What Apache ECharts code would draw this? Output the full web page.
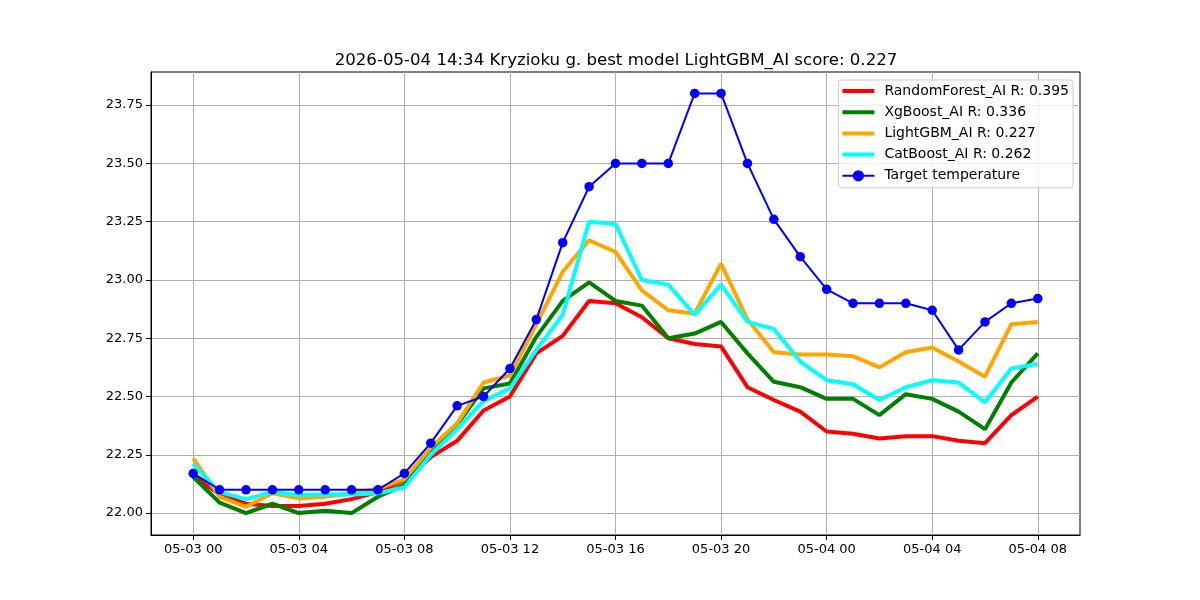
<!DOCTYPE html>
<html>
<head>
<meta charset="utf-8">
<script src="https://cdn.jsdelivr.net/npm/echarts@6/dist/echarts.min.js"></script>
<style>html,body{margin:0;padding:0;background:#fff}#c{width:1200px;height:600px}</style>
</head>
<body>
<div id="c"></div>
<script>
const titleText = '2026-05-04 14:34 Kryzioku g. best model LightGBM_AI score: 0.227';
const hours = [0,1,2,3,4,5,6,7,8,9,10,11,12,13,14,15,16,17,18,19,20,21,22,23,24,25,26,27,28,29,30,31,32];
const xTickHours = [0,4,8,12,16,20,24,28,32];
const xTickLabels = ['05-03 00','05-03 04','05-03 08','05-03 12','05-03 16','05-03 20','05-04 00','05-04 04','05-04 08'];
const yTicks = [22.00,22.25,22.50,22.75,23.00,23.25,23.50,23.75];

const seriesNames = ['RandomForest_AI R: 0.395','XgBoost_AI R: 0.336','LightGBM_AI R: 0.227','CatBoost_AI R: 0.262','Target temperature'];
const randomForest = [22.16,22.08,22.04,22.03,22.03,22.04,22.06,22.09,22.14,22.24,22.31,22.44,22.50,22.685,22.76,22.91,22.90,22.84,22.75,22.725,22.715,22.54,22.485,22.435,22.35,22.34,22.32,22.33,22.33,22.31,22.30,22.42,22.50];
const xgBoost = [22.155,22.045,22.00,22.04,22.00,22.01,22.00,22.07,22.12,22.27,22.38,22.535,22.556,22.756,22.91,22.99,22.91,22.89,22.75,22.77,22.82,22.685,22.563,22.54,22.49,22.49,22.42,22.51,22.49,22.435,22.36,22.56,22.685];
const lightGBM = [22.235,22.07,22.027,22.085,22.063,22.07,22.085,22.105,22.145,22.28,22.385,22.56,22.59,22.81,23.035,23.17,23.12,22.955,22.87,22.855,23.07,22.83,22.69,22.68,22.68,22.673,22.625,22.69,22.71,22.65,22.585,22.81,22.82];
const catBoost = [22.21,22.09,22.06,22.09,22.077,22.08,22.08,22.085,22.11,22.25,22.36,22.48,22.535,22.70,22.85,23.25,23.24,23.00,22.98,22.85,22.98,22.82,22.79,22.65,22.57,22.553,22.485,22.54,22.57,22.56,22.475,22.62,22.64];
const target = [22.17,22.10,22.10,22.10,22.10,22.10,22.10,22.10,22.17,22.30,22.46,22.50,22.62,22.83,23.16,23.40,23.50,23.50,23.50,23.80,23.80,23.50,23.26,23.10,22.96,22.90,22.90,22.90,22.87,22.70,22.82,22.90,22.92];

const colors = ['#ff0000','#008000','#ffa500','#00ffff','#0000ff'];
const modelData = [randomForest, xgBoost, lightGBM, catBoost];

const font = 'DejaVu Sans';
const pair = arr => hours.map((h,i)=>[h, arr[i]]);

const series = modelData.map((d,i)=>({
  name: seriesNames[i], type:'line', data: pair(d),
  showSymbol:false, symbol:'none', lineStyle:{color:colors[i], width:4}, itemStyle:{color:colors[i]},
  z: 2+i, animation:false
}));
series.push({
  name: seriesNames[4], type:'line', data: pair(target),
  symbol:'circle', symbolSize:9.5, showSymbol:true,
  lineStyle:{color:colors[4], width:2}, itemStyle:{color:colors[4]}, z:10, animation:false
});

const chart = echarts.init(document.getElementById('c'), null, {renderer:'canvas'});
chart.setOption({
  backgroundColor:'#fff',
  animation:false,
  title:{text:titleText, left:611, top:47, textAlign:'center',
    textStyle:{fontFamily:font, fontSize:16.6, fontWeight:'normal', color:'#000'}},
  grid:{left:151, right:120, top:72, bottom:65, show:true, borderColor:'#000', borderWidth:1, backgroundColor:'transparent'},
  legend:{
    orient:'vertical', right:127, top:80, itemWidth:32, itemHeight:14, itemGap:7.2,
    backgroundColor:'rgba(255,255,255,0.8)', borderColor:'#cccccc', borderWidth:1, borderRadius:3,
    padding:[4,4,5,2],
    textStyle:{fontFamily:font, fontSize:14, color:'#000', padding:[0,0,0,5]},
    data: seriesNames.map((n,i)=> i<4 ? {name:n, itemStyle:{opacity:0}, lineStyle:{width:4, opacity:1}} : {name:n})
  },
  xAxis:{
    type:'value', min:-1.6, max:33.6,
    axisLine:{show:true, onZero:false, lineStyle:{color:'#000'}},
    axisTick:{show:true, length:5, lineStyle:{color:'#000'}, customValues:xTickHours},
    axisLabel:{customValues:xTickHours, fontFamily:font, fontSize:13, color:'#000', margin:8,
      formatter: v => { const k = xTickHours.indexOf(v); return k>=0 ? xTickLabels[k] : ''; }},
    splitLine:{show:true, lineStyle:{color:'#b0b0b0', width:1}}
  },
  yAxis:{
    type:'value', min:21.906, max:23.892,
    axisLine:{show:true, onZero:false, lineStyle:{color:'#000'}},
    axisTick:{show:true, length:5, lineStyle:{color:'#000'}, customValues:yTicks},
    axisLabel:{customValues:yTicks, fontFamily:font, fontSize:13, color:'#000', margin:8,
      formatter: v => v.toFixed(2)},
    splitLine:{show:true, lineStyle:{color:'#b0b0b0', width:1}}
  },
  series: series
});
</script>
</body>
</html>
